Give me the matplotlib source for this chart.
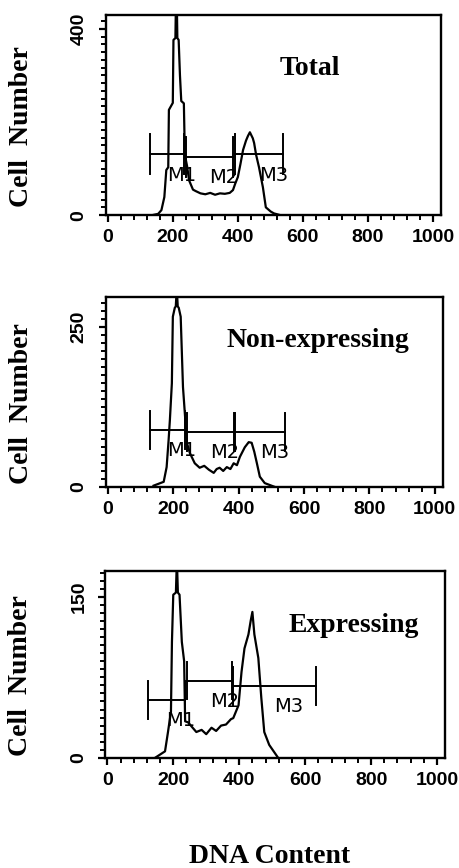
import matplotlib
matplotlib.use("Agg")
import matplotlib.pyplot as plt
from matplotlib.ticker import MultipleLocator

plt.rcParams['font.family'] = ['Liberation Sans', 'DejaVu Sans']

titles = ["Total", "Non-expressing", "Expressing"]

# DNA content (channel) and cell number
totalX = [135, 155, 165, 174, 180, 186, 188, 200, 202, 208, 211, 214, 218, 222, 226, 234, 237,
          244, 250, 262, 270, 285, 300, 315, 330, 345, 360, 375, 385, 392, 400, 408, 416, 425,
          431, 437, 446, 450, 456, 465, 477, 486, 501, 511, 532]
totalY = [0, 3, 11, 39, 97, 103, 226, 241, 376, 380, 520, 380, 376, 300, 245, 240, 130,
          105, 75, 55, 52, 47, 45, 48, 44, 47, 46, 48, 54, 68, 82, 110, 140, 160,
          170, 178, 165, 155, 130, 103, 60, 17, 8, 4, 0]

nonExpX = [140, 171, 180, 186, 190, 196, 199, 205, 208, 211, 214, 217, 223, 230, 235, 242, 251,
           266, 281, 295, 309, 324, 333, 342, 353, 364, 375, 385, 395, 404, 419, 431, 440,
           448, 456, 465, 480, 511]
nonExpY = [2, 8, 31, 73, 105, 162, 266, 280, 282, 310, 282, 280, 266, 156, 120, 69, 53,
           37, 30, 33, 27, 22, 28, 30, 25, 31, 28, 37, 34, 47, 62, 70, 69,
           55, 37, 16, 6, 0]

expX = [145, 175, 184, 193, 196, 200, 208, 211, 214, 219, 226, 233, 236, 245, 256, 270, 286,
        300, 316, 330, 345, 360, 375, 382, 398, 407, 416, 428, 435, 440, 446, 458, 467,
        476, 491, 518]
expY = [0, 6, 24, 43, 108, 152, 154, 185, 154, 152, 108, 90, 34, 33, 29, 24, 26,
        22, 28, 25, 30, 31, 36, 37, 49, 80, 102, 115, 128, 136, 115, 93, 56,
        24, 12, 0]

histX = [totalX, nonExpX, expX]
histY = [totalY, nonExpY, expY]

# marker gates: start, end, level
gateNames = ["M1", "M2", "M3"]
totalGates = [[129, 235, 131], [240, 385, 125], [392, 538, 131]]
nonExpGates = [[128, 235, 89], [242, 386, 86], [389, 541, 86]]
expGates = [[122, 235, 54], [243, 378, 72], [380, 634, 67]]
gates = [totalGates, nonExpGates, expGates]

xTicks = [0, 200, 400, 600, 800, 1000]
yTickTop = [400, 250, 150]
yLimTop = [430, 297, 174]
yMinor = [400 / 24, 12.5, 7.5]

# layout
axPos = [[0.230, 0.752, 0.729, 0.231],
         [0.230, 0.439, 0.733, 0.219],
         [0.229, 0.127, 0.739, 0.215]]
titlePos = [[0.61, 0.70], [0.63, 0.737], [0.73, 0.674]]

fig = plt.figure(figsize=(4.6, 8.68), dpi=100)
serif = ['Liberation Serif', 'DejaVu Serif']

for i in range(3):
    ax = fig.add_axes(axPos[i])
    ax.plot(histX[i], histY[i], color='black', lw=1.6)

    top = yLimTop[i]
    half = 0.1 * top
    for g in range(3):
        x0, x1, lev = gates[i][g]
        ax.plot([x0, x1], [lev, lev], color='black', lw=1.4)
        ax.plot([x0, x0], [lev - half, lev + half], color='black', lw=1.4)
        ax.plot([x1, x1], [lev - half, lev + half], color='black', lw=1.4)
        ax.annotate(gateNames[g], xy=((x0 + x1) / 2, lev), xytext=(0, -21),
                    textcoords='offset pixels', ha='left', va='center',
                    fontsize=14, family='DejaVu Sans')

    ax.set_xlim(-6, 1025)
    ax.set_ylim(0, top)
    ax.set_xticks(xTicks)
    ax.xaxis.set_minor_locator(MultipleLocator(40))
    ax.set_yticks([0, yTickTop[i]])
    ax.yaxis.set_minor_locator(MultipleLocator(yMinor[i]))

    ax.tick_params(axis='x', which='major', direction='out', length=5, width=1.6, pad=5, labelsize=14)
    ax.tick_params(axis='x', which='minor', direction='out', length=3.5, width=1.4)
    ax.tick_params(axis='y', which='major', direction='out', length=5, width=1.6, pad=8, labelsize=14)
    ax.tick_params(axis='y', which='minor', direction='out', length=3.5, width=1.4)
    plt.setp(ax.get_xticklabels(), fontweight='bold')
    plt.setp(ax.get_yticklabels(), fontweight='bold', rotation=90, va='center')

    for s in ax.spines.values():
        s.set_linewidth(1.7)

    ax.text(titlePos[i][0], titlePos[i][1], titles[i], transform=ax.transAxes,
            ha='center', va='baseline', fontsize=20, fontweight='bold', family=serif)
    ax.text(-0.25, 0.44, "Cell  Number", transform=ax.transAxes, rotation=90,
            ha='center', va='center', fontsize=20, fontweight='bold', family=serif)

fig.text(0.587, 0.006, "DNA Content", ha='center', va='baseline',
         fontsize=20, fontweight='bold', family=serif)

plt.savefig("out.png", dpi=100)
